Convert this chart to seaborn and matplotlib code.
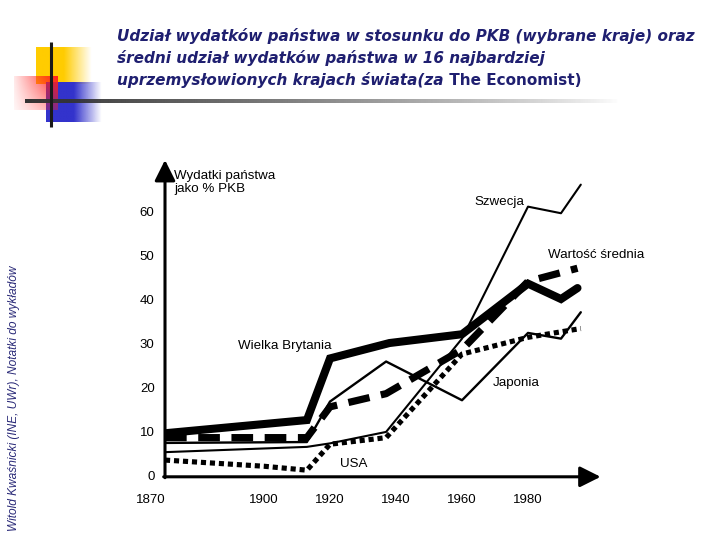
import numpy as np
import pandas as pd
import matplotlib
matplotlib.use("Agg")
import matplotlib.pyplot as plt
import seaborn as sns
from matplotlib.transforms import ScaledTranslation

# --- dane (wydatki panstwa jako % PKB) ---
years_wb = [1870, 1913, 1920, 1938, 1960, 1980, 1990, 1995]
wielka_brytania = [9.5, 12.5, 26.5, 30, 32, 43.5, 40, 42.5]

years_sw = [1870, 1913, 1920, 1937, 1960, 1980, 1990, 1996]
szwecja = [5.2, 6.4, 7.2, 9.8, 31, 61, 59.5, 66]

years_jp = [1870, 1913, 1920, 1937, 1960, 1980, 1990, 1996]
japonia = [7.3, 7.5, 16.7, 25.8, 17, 32.3, 31, 37]

years_usa = [1870, 1900, 1913, 1920, 1937, 1960, 1980, 1996]
usa = [3.4, 2.0, 1.1, 7.0, 8.5, 27.5, 31.3, 33.3]

years_avg = [1870, 1913, 1920, 1937, 1960, 1980, 1995]
srednia = [8.5, 8.5, 15.5, 18.5, 28.5, 44, 47]

x_ticks = [1870, 1900, 1920, 1940, 1960, 1980]
y_ticks = [0, 10, 20, 30, 40, 50, 60]

title_lines = [
    "Udział wydatków państwa w stosunku do PKB (wybrane kraje) oraz",
    "średni udział wydatków państwa w 16 najbardziej",
]
title_last_it = "uprzemysłowionych krajach świata(za"
title_last_up = " The Economist)"
side_note = "Witold Kwaśnicki (INE, UWr), Notatki do wykładów"

sns.set_style("white")
plt.rcParams["font.family"] = ["Liberation Sans", "DejaVu Sans"]

fig = plt.figure(figsize=(7.2, 5.4), dpi=100)

# ==========================================
# dekoracja slajdu (kwadraty + linie)
# ==========================================
deco = fig.add_axes([0, 0, 1, 1])
deco.set_xlim(0, 720)
deco.set_ylim(540, 0)
deco.axis("off")


def grad_box(ax, x0, x1, y0, y1, rgb, ax_alpha, ay_alpha=None):
    n = 64
    a = np.interp(np.linspace(x0, x1, n), ax_alpha[0], ax_alpha[1])
    img = np.zeros((n, n, 4))
    img[..., :3] = rgb
    img[..., 3] = a[None, :]
    if ay_alpha is not None:
        b = np.interp(np.linspace(y0, y1, n), ay_alpha[0], ay_alpha[1])
        img[..., 3] *= b[:, None]
    ax.imshow(img, extent=(x0, x1, y1, y0), aspect="auto", interpolation="bilinear")


grad_box(deco, 36, 92, 47, 84, (1.0, 0.8, 0.0), ([36, 64, 92], [1, 1, 0]))
grad_box(deco, 46, 102, 82, 122, (0.2, 0.2, 0.8), ([46, 74, 102], [1, 1, 0]))
grad_box(deco, 14, 58, 76, 110, (1.0, 0.12, 0.12), ([14, 58], [0.1, 1]), ([76, 110], [1, 0.4]))

hl = np.zeros((2, 256, 4))
hl[..., :3] = 0.2
hl[..., 3] = np.linspace(1, 0, 256)[None, :] ** 0.8
deco.imshow(hl, extent=(25, 620, 103, 99), aspect="auto", interpolation="bilinear")
deco.plot([51, 51], [42, 127], color="#1a1a1a", lw=2.2, solid_capstyle="butt")
deco.set_xlim(0, 720)
deco.set_ylim(540, 0)

# tytul
navy = "#1f1f70"
tkw = dict(family=["DejaVu Sans"], fontsize=11, fontweight="bold", color=navy, va="baseline", ha="left")
fig.text(117 / 720, 1 - 41 / 540, title_lines[0], style="italic", **tkw)
fig.text(117 / 720, 1 - 63 / 540, title_lines[1], style="italic", **tkw)
t3 = fig.text(117 / 720, 1 - 85 / 540, title_last_it, style="italic", **tkw)
fig.canvas.draw()
bb = t3.get_window_extent()
fig.text(bb.x1 / fig.bbox.width, 1 - 85 / 540, title_last_up, **tkw)

fig.text(14 / 720, 1 - 398 / 540, side_note, rotation=90, ha="center", va="center",
         fontsize=8.6, style="italic", color="#2a2a78")

# ==========================================
# wykres
# ==========================================
ax = fig.add_axes([165 / 720, 63.2 / 540, 435.6 / 720, 316.8 / 540])
ax.patch.set_alpha(0)

sns.lineplot(x=years_sw, y=szwecja, ax=ax, color="black", lw=1.5)
sns.lineplot(x=years_jp, y=japonia, ax=ax, color="black", lw=1.7)
sns.lineplot(x=years_usa, y=usa, ax=ax, color="black", lw=3.7, linestyle=(0, (1, 0.75)))
sns.lineplot(x=years_avg, y=srednia, ax=ax, color="black", lw=5.2, linestyle=(0, (3, 1.6)))
sns.lineplot(x=years_wb, y=wielka_brytania, ax=ax, color="black", lw=5.8, solid_joinstyle="miter")

ax.set_xlim(1870, 2002)
ax.set_ylim(-0.4, 71.6)
for s in ax.spines.values():
    s.set_visible(False)

# osie ze strzalkami
arrow = dict(arrowstyle="-|>,head_length=0.9,head_width=0.45", color="black", lw=2.2,
             shrinkA=0, shrinkB=0, mutation_scale=14)
ax.annotate("", xy=(2002, -0.4), xytext=(1869.6, -0.4), arrowprops=arrow, annotation_clip=False)
ax.annotate("", xy=(1870, 71.6), xytext=(1870, -0.6), arrowprops=arrow, annotation_clip=False)

ax.set_xticks(x_ticks)
ax.set_xticklabels([str(v) for v in x_ticks])
ax.set_yticks(y_ticks)
ax.set_yticklabels([str(v) for v in y_ticks])
ax.tick_params(axis="x", direction="out", length=4.5, width=2, pad=8, labelsize=9.5, colors="black")
ax.tick_params(axis="y", direction="out", length=4.5, width=2, pad=3, labelsize=9.5, colors="black")
ax.xaxis.get_major_ticks()[0].tick1line.set_visible(False)
ax.yaxis.get_major_ticks()[0].tick1line.set_visible(False)
lab = ax.get_xticklabels()[0]
lab.set_transform(lab.get_transform() + ScaledTranslation(-0.14, 0, fig.dpi_scale_trans))
ax.set_xlabel("")
ax.set_ylabel("")
ax.grid(False)

lkw = dict(fontsize=9.6, color="black", ha="left", va="center")
ax.text(1872.7, 66.5, "Wydatki państwa\njako % PKB", linespacing=1.1, **lkw)
ax.text(1963.9, 62.0, "Szwecja", **lkw)
ax.text(1986.1, 50.0, "Wartość średnia", **lkw)
ax.text(1892.1, 29.3, "Wielka Brytania", **lkw)
ax.text(1969.4, 20.9, "Japonia", **lkw)
ax.text(1923.0, 2.5, "USA", **lkw)

fig.savefig("out.png", dpi=100)
